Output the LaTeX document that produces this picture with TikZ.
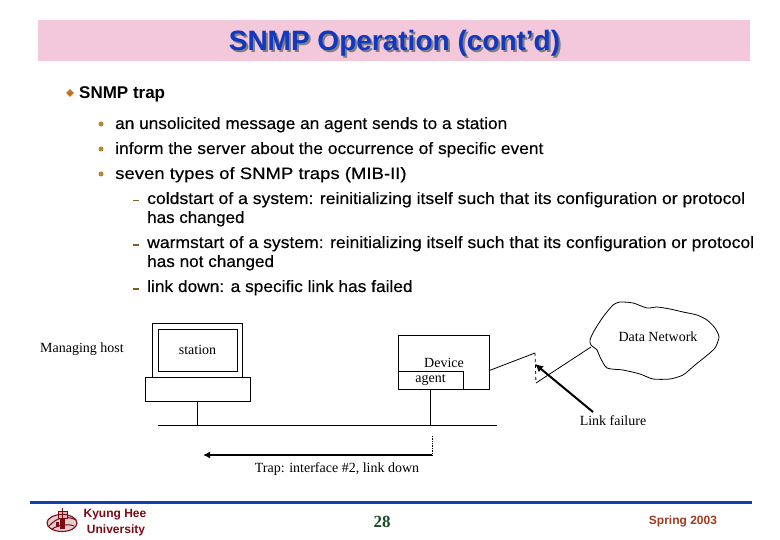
\documentclass[tikz,border=0pt]{standalone}
\usepackage{fontspec}
\setmainfont{Liberation Serif}
\setsansfont{Liberation Sans}
\newfontfamily\bodyfont[FakeBold=0.35]{Liberation Sans}
\usetikzlibrary{arrows.meta,shapes.geometric}
\definecolor{titlebg}{HTML}{F2C8DA}
\definecolor{titleblue}{HTML}{1038C0}
\definecolor{bullet}{HTML}{B8862E}
\definecolor{diamondc}{HTML}{C8701E}
\definecolor{footblue}{HTML}{1040B0}
\definecolor{footred}{HTML}{7A0A14}
\definecolor{springred}{HTML}{A03A20}
\definecolor{footgreen}{HTML}{1A4A2A}
\newcommand{\sx}[2]{\scalebox{#1}[1]{#2}}
\newcommand{\low}[1]{\raisebox{-1.5pt}{#1}}
\tikzset{
  body/.style={anchor=base west,inner sep=0pt,font=\bodyfont\fontsize{16.5}{16.5}\selectfont,text=black},
  serif/.style={inner sep=0pt,font=\rmfamily\fontsize{14}{14}\selectfont},
  foot/.style={inner sep=0pt,font=\sffamily\bfseries\fontsize{12}{12}\selectfont,text=footred},
  bl/.style={circle,fill=bullet,minimum size=5pt,inner sep=0pt},
  dashb/.style={fill=bullet!70!black,minimum width=6pt,minimum height=1.3pt,inner sep=0pt},
  box/.style={draw,line width=.8pt,inner sep=0pt,fill=white},
  wire/.style={line width=.8pt},
}
\begin{document}
\begin{tikzpicture}[x=1pt,y=-1pt]
\useasboundingbox (0,0) rectangle (780,540);
% title
\node[fill=titlebg,minimum width=712pt,minimum height=41pt,inner sep=0pt] (band) at (394,40.5) {};
\node[inner sep=0pt,font=\sffamily\bfseries\fontsize{28}{28}\selectfont,text=black!50] (titleshadow) at (396.5,45) {SNMP Operation (cont’d)};
\node[inner sep=0pt,font=\sffamily\bfseries\fontsize{28}{28}\selectfont,text=titleblue] (title) at (394.5,43.5) {SNMP Operation (cont’d)};
% text
\node[diamond,fill=diamondc,minimum size=8pt,inner sep=0pt] (d0) at (70,93) {};
\node[body,font=\sffamily\bfseries\fontsize{17}{17}\selectfont] (t0) at (79,98.5) {SNMP trap};
\node[bl] (b1) at (101,124) {};
\node[bl] (b2) at (101,149) {};
\node[bl] (b3) at (101,174) {};
\node[body] (t1) at (115,129) {\sx{1.045}{an unsolicited message an agent sends to a station}};
\node[body] (t2) at (115,154) {\sx{1.054}{inform the server about the occurrence of specific event}};
\node[body] (t3) at (115,179) {\sx{1.123}{seven types of SNMP traps (MIB-II)}};
\node[dashb] (e1) at (136,200.5) {};
\node[dashb] (e2) at (136,245) {};
\node[dashb] (e3) at (136,289) {};
\node[body] (t4) at (147,204) {\sx{1.066}{coldstart of a system: reinitializing itself such that its configuration or protocol}};
\node[body] (t4b) at (147,223) {\sx{1.03}{has changed}};
\node[body] (t5) at (147,248) {\sx{1.063}{warmstart of a system: reinitializing itself such that its configuration or protocol}};
\node[body] (t5b) at (147,267) {\sx{1.04}{has not changed}};
\node[body] (t6) at (147,292) {\sx{1.05}{link down: a specific link has failed}};
% host
\node[box,minimum width=90pt,minimum height=54pt] (monitor) at (197,350) {};
\node[box,minimum width=79pt,minimum height=42pt,serif] (station) at (197.5,350) {\low{station}};
\node[box,minimum width=105pt,minimum height=24pt] (base) at (197.5,389) {};
\node[serif] (mh) at (82,349.5) {Managing host};
% device
\node[box,minimum width=91pt,minimum height=54pt] (device) at (443.5,362) {};
\node[box,minimum width=65pt,minimum height=18pt,serif] (agent) at (430.5,380) {\low{agent}};
\node[serif] (devl) at (444,363) {Device};
% bus
\coordinate (busl) at (158,425);
\coordinate (busr) at (497,425);
\draw[wire] (busl) -- (busr);
\draw[wire] (base.south) -- (base.south |- busl);
\draw[wire] (agent.south) -- (agent.south |- busl);
% trap arrow
\coordinate (trapr) at (432,455);
\coordinate (trapl) at (203,455);
\coordinate (traptop) at (432,436);
\draw[line width=2pt,-{Latex[length=7pt,width=7pt]}] (trapr) -- (trapl);
\draw[line width=.7pt,densely dotted] (traptop) -- (trapr);
\node[serif] (trap) at (337,469) {Trap: interface \#2, link down};
% cloud
\draw[line width=.8pt,fill=white] plot[smooth cycle,tension=.4] coordinates {
 (590,340)(594,331)(603,317)(613,305)(620,302)(633,303)(647,308)(657,307)(670,309)(683,312)(697,315)(707,320)(715,328)(719,337)(715,348)(705,357)(695,365)(683,375)(670,379)(653,379)(640,374)(623,370)(607,368)(600,357)(597,350)(591,345)
};
\coordinate (cloudpt) at (591,347);
\node[serif] (dn) at (658,337) {Data Network};
% broken link
\coordinate (brk1) at (535,353);
\coordinate (brk2) at (536,383);
\draw[wire] (device.east) ++(0,8.5) coordinate (devout) -- (brk1);
\draw[line width=.8pt,dashed] (brk1) -- (brk2);
\draw[wire] (brk2) -- (cloudpt);
\node[serif] (lf) at (613,421) {Link failure};
\coordinate (lftail) at (593,412);
\coordinate (lfhead) at (535,364);
\draw[line width=2pt,-{Latex[length=8pt,width=8pt]}] (lftail) -- (lfhead);
% footer
\coordinate (fl) at (30,502.5);
\coordinate (fr) at (752,502.5);
\draw[footblue,line width=3pt] (fl) -- (fr);
\node[foot] (ky) at (115,514.5) {Kyung Hee};
\node[foot] (un) at (116,530.5) {University};
\node[inner sep=0pt,font=\rmfamily\bfseries\fontsize{17}{17}\selectfont,text=footgreen] (pg) at (382,521.5) {28};
\node[foot,text=springred] (sp) at (683,521.5) {Spring 2003};
% logo
\begin{scope}[footred]
\draw[line width=1.1pt,fill=footred!20] (62,523) ellipse [x radius=15pt,y radius=8.5pt];
\draw[line width=1pt] (49,526) .. controls (58,516) and (68,516) .. (76,520);
\draw[line width=1pt] (52,529) .. controls (60,524) and (70,524) .. (74,526);
\fill (60,518) rectangle (65,529);
\fill (56,522) rectangle (59,527);
\draw[line width=1pt,fill=footred!30] (58,511) rectangle (67,518);
\draw[line width=.8pt] (58,514) -- (67,514) (62.5,508) -- (62.5,518);
\end{scope}
\end{tikzpicture}
\end{document}
